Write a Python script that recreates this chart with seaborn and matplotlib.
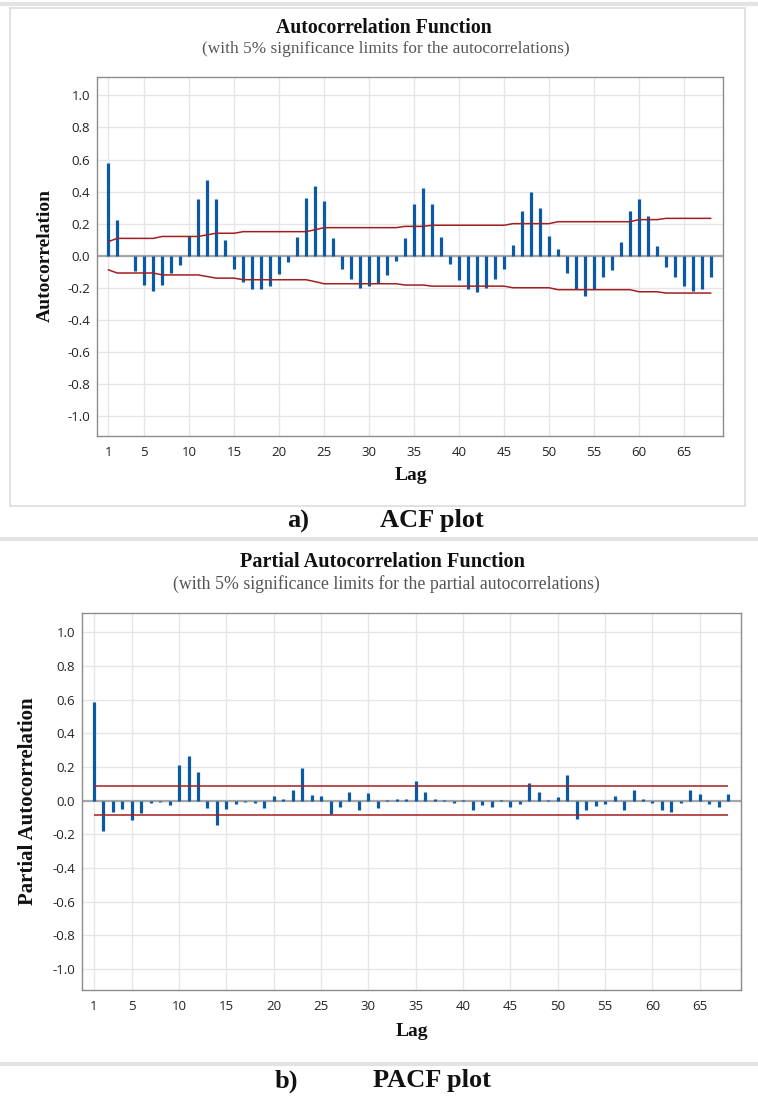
import matplotlib
matplotlib.use("Agg")
import matplotlib.pyplot as plt
import seaborn as sns
import pandas as pd
from matplotlib.patches import Rectangle
from matplotlib.lines import Line2D

# ---- data ----
lags = list(range(1, 69))

acf_vals = [0.58, 0.22, 0.0, -0.096, -0.18, -0.22, -0.185, -0.11, -0.06, 0.12,
            0.355, 0.47, 0.355, 0.10, -0.08, -0.167, -0.21, -0.21, -0.19, -0.117,
            -0.04, 0.117, 0.36, 0.435, 0.34, 0.108, -0.08, -0.144, -0.20, -0.19,
            -0.17, -0.12, -0.03, 0.108, 0.32, 0.42, 0.32, 0.117, -0.054, -0.152,
            -0.21, -0.225, -0.20, -0.144, -0.08, 0.067, 0.28, 0.40, 0.30, 0.125,
            0.04, -0.11, -0.21, -0.25, -0.21, -0.135, -0.088, 0.083, 0.28, 0.355,
            0.245, 0.058, -0.07, -0.135, -0.19, -0.22, -0.21, -0.135]

acf_limit = [0.088, 0.108, 0.108, 0.108, 0.108, 0.108, 0.12, 0.12, 0.12, 0.12,
             0.12, 0.13, 0.14, 0.14, 0.14, 0.15, 0.15, 0.15, 0.15, 0.15,
             0.15, 0.15, 0.15, 0.162, 0.175, 0.175, 0.175, 0.175, 0.175, 0.175,
             0.175, 0.175, 0.175, 0.183, 0.183, 0.183, 0.19, 0.19, 0.19, 0.19,
             0.19, 0.19, 0.19, 0.19, 0.19, 0.20, 0.20, 0.20, 0.20, 0.20,
             0.212, 0.212, 0.212, 0.212, 0.212, 0.212, 0.212, 0.212, 0.212, 0.225,
             0.225, 0.225, 0.233, 0.233, 0.233, 0.233, 0.233, 0.233]

pacf_vals = [0.584, -0.18, -0.067, -0.051, -0.114, -0.073, -0.012, -0.01, -0.026, 0.21,
             0.268, 0.168, -0.041, -0.142, -0.051, -0.018, -0.008, -0.014, -0.045, 0.028,
             0.012, 0.061, 0.197, 0.036, 0.028, -0.077, -0.037, 0.053, -0.053, 0.043,
             -0.045, 0.005, 0.012, 0.012, 0.118, 0.053, 0.012, 0.004, -0.012, 0.004,
             -0.053, -0.028, -0.037, 0.003, -0.037, -0.022, 0.103, 0.053, 0.006, 0.022,
             0.15, -0.11, -0.053, -0.03, -0.022, 0.03, -0.053, 0.061, 0.012, -0.012,
             -0.053, -0.069, -0.012, 0.061, 0.037, -0.022, -0.037, 0.037]

pacf_limit = 0.087

x_ticks = [1, 5, 10, 15, 20, 25, 30, 35, 40, 45, 50, 55, 60, 65]
y_ticks = [-1.0, -0.8, -0.6, -0.4, -0.2, 0.0, 0.2, 0.4, 0.6, 0.8, 1.0]

acf_df = pd.DataFrame({"Lag": lags, "ACF": acf_vals, "upper": acf_limit})
acf_df["lower"] = -acf_df["upper"]
pacf_df = pd.DataFrame({"Lag": lags, "PACF": pacf_vals})

# ---- style ----
sns.set_style("white")
plt.rcParams["font.family"] = ["Open Sans", "DejaVu Sans"]

W, H = 758, 1099
fig = plt.figure(figsize=(W / 100, H / 100), dpi=100)

BLUE = "#0b5aa8"
RED = "#a31f1f"
INK = "#111111"
SERIF = ["Liberation Serif", "DejaVu Serif"]


def px(x, y):
    return x / W, 1 - y / H


def axes_px(left, top, right, bottom):
    return fig.add_axes([left / W, 1 - bottom / H, (right - left) / W, (bottom - top) / H])


def style_axes(ax):
    ax.set_xlim(-0.25, 69.35)
    ax.set_ylim(-1.125, 1.115)
    ax.set_xticks(x_ticks)
    ax.set_yticks(y_ticks)
    ax.set_yticklabels([f"{v:.1f}" for v in y_ticks])
    ax.grid(True, color="#e6e6e6", linewidth=1.0)
    ax.set_axisbelow(True)
    for s in ax.spines.values():
        s.set_color("#8c8c8c")
        s.set_linewidth(1.0)
        s.set_visible(True)
    ax.tick_params(axis="y", length=4, color="#8c8c8c", labelsize=9.5, labelcolor="#222222", pad=1)
    ax.tick_params(axis="x", length=4, color="#8c8c8c", labelsize=9.5, labelcolor="#222222", pad=3)
    ax.axhline(0, color="#a6a6a6", linewidth=1.6, zorder=2)
    ax.set_xlabel("")
    ax.set_ylabel("")


# ---------------- ACF ----------------
fig.patches.append(Rectangle(px(10, 506), 735 / W, 498 / H, transform=fig.transFigure,
                             fill=False, edgecolor="#dcdcdc", linewidth=1.2))
fig.lines.append(Line2D([0, 1], [1 - 4 / H] * 2, transform=fig.transFigure, color="#e3e3e3", linewidth=3))

ax1 = axes_px(97, 77, 723, 436)
ax1.vlines(acf_df["Lag"], 0, acf_df["ACF"], color=BLUE, linewidth=2.3, zorder=3)
sns.lineplot(data=acf_df, x="Lag", y="upper", ax=ax1, color=RED, linewidth=1.1, zorder=4)
sns.lineplot(data=acf_df, x="Lag", y="lower", ax=ax1, color=RED, linewidth=1.1, zorder=4)
style_axes(ax1)

fig.text(*px(384, 28), "Autocorrelation Function", ha="center", va="center",
         family=SERIF, fontweight="bold", fontsize=14.2, color=INK)
fig.text(*px(386, 49), "(with 5% significance limits for the autocorrelations)", ha="center", va="center",
         family=SERIF, fontsize=12.4, color="#555555")
fig.text(*px(45, 256), "Autocorrelation", ha="center", va="center", rotation=90,
         family=SERIF, fontweight="bold", fontsize=14, color=INK)
fig.text(*px(411, 476), "Lag", ha="center", va="center",
         family=SERIF, fontweight="bold", fontsize=14, color=INK)
fig.text(*px(298, 521), "a)", ha="center", va="center",
         family=SERIF, fontweight="bold", fontsize=19, color=INK)
fig.text(*px(432, 521), "ACF plot", ha="center", va="center",
         family=SERIF, fontweight="bold", fontsize=19, color=INK)

fig.lines.append(Line2D([0, 1], [1 - 539 / H] * 2, transform=fig.transFigure, color="#e3e3e3", linewidth=3))

# ---------------- PACF ----------------
ax2 = axes_px(82, 613, 741, 990)
ax2.vlines(pacf_df["Lag"], 0, pacf_df["PACF"], color=BLUE, linewidth=2.3, zorder=3)
ax2.hlines([pacf_limit, -pacf_limit], lags[0], lags[-1], color=RED, linewidth=1.1, zorder=4)
style_axes(ax2)

fig.text(*px(383, 562), "Partial Autocorrelation Function", ha="center", va="center",
         family=SERIF, fontweight="bold", fontsize=14.6, color=INK)
fig.text(*px(386, 584), "(with 5% significance limits for the partial autocorrelations)", ha="center", va="center",
         family=SERIF, fontsize=12.8, color="#555555")
fig.text(*px(28, 801), "Partial Autocorrelation", ha="center", va="center", rotation=90,
         family=SERIF, fontweight="bold", fontsize=15, color=INK)
fig.text(*px(412, 1032), "Lag", ha="center", va="center",
         family=SERIF, fontweight="bold", fontsize=14, color=INK)

fig.lines.append(Line2D([0, 1], [1 - 1064 / H] * 2, transform=fig.transFigure, color="#e3e3e3", linewidth=3))
fig.text(*px(286, 1081), "b)", ha="center", va="center",
         family=SERIF, fontweight="bold", fontsize=19, color=INK)
fig.text(*px(432, 1081), "PACF plot", ha="center", va="center",
         family=SERIF, fontweight="bold", fontsize=19, color=INK)

fig.savefig("out.png", dpi=100)
